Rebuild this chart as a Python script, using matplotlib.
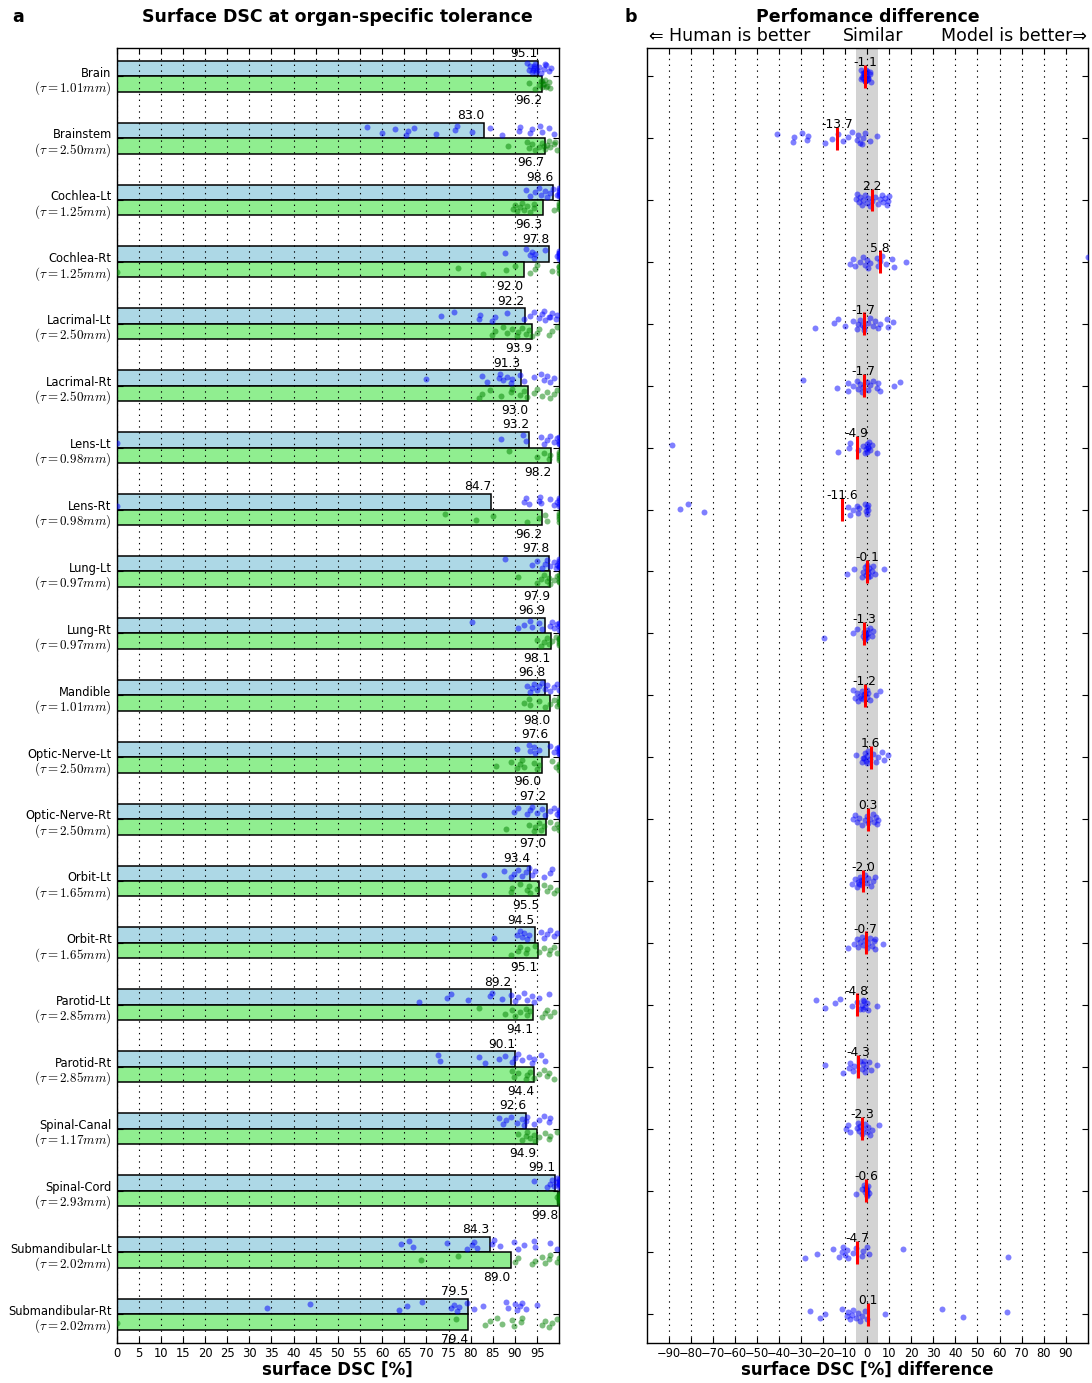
import matplotlib
matplotlib.use("Agg")
import matplotlib.pyplot as plt
import matplotlib.transforms as mtransforms
import numpy as np

# ---------------------------------------------------------------- data
organs = ["Brain", "Brainstem", "Cochlea-Lt", "Cochlea-Rt", "Lacrimal-Lt",
          "Lacrimal-Rt", "Lens-Lt", "Lens-Rt", "Lung-Lt", "Lung-Rt",
          "Mandible", "Optic-Nerve-Lt", "Optic-Nerve-Rt", "Orbit-Lt",
          "Orbit-Rt", "Parotid-Lt", "Parotid-Rt", "Spinal-Canal",
          "Spinal-Cord", "Submandibular-Lt", "Submandibular-Rt"]
tolerance_mm = [1.01, 2.50, 1.25, 1.25, 2.50, 2.50, 0.98, 0.98, 0.97, 0.97,
                1.01, 2.50, 2.50, 1.65, 1.65, 2.85, 2.85, 1.17, 2.93, 2.02,
                2.02]
human_dsc = [95.1, 83.0, 98.6, 97.8, 92.2, 91.3, 93.2, 84.7, 97.8, 96.9,
             96.8, 97.6, 97.2, 93.4, 94.5, 89.2, 90.1, 92.6, 99.1, 84.3, 79.5]
model_dsc = [96.2, 96.7, 96.3, 92.0, 93.9, 93.0, 98.2, 96.2, 97.9, 98.1,
             98.0, 96.0, 97.0, 95.5, 95.1, 94.1, 94.4, 94.9, 99.8, 89.0, 79.4]
mean_diff = [-1.1, -13.7, 2.2, 5.8, -1.7, -1.7, -4.9, -11.6, -0.1, -1.3,
             -1.2, 1.6, 0.3, -2.0, -0.7, -4.8, -4.3, -2.3, -0.6, -4.7, 0.1]

# per-case surface DSC of the human reference contours
human_points = [
    [92.7, 93.1, 93.5, 93.9, 94.2, 94.6, 95.0, 95.4, 95.8, 96.5, 97.1, 97.6, 98.2, 96.9, 94.0, 94.4, 94.8],
    [56.5, 59.9, 62.9, 65.4, 65.8, 67.2, 72.1, 76.4, 76.8, 80.3, 84.3, 87.1, 90.9, 91.2, 93.3, 93.8, 95.7, 96.2, 97.8, 98.9],
    [92.6, 93.5, 94.6, 95.4, 95.8, 96.9, 97.3, 98.0, 98.6, 99.5, 99.9, 100, 100, 100, 100],
    [87.8, 92.4, 93.3, 93.9, 94.2, 94.6, 96.9, 99.5, 100, 100, 100, 100, 100, 100],
    [73.3, 76.2, 81.8, 82.0, 84.8, 85.6, 88.3, 92.0, 93.3, 94.2, 95.4, 96.1, 96.9, 97.6, 98.4, 99.2, 99.5, 96.5, 98.0],
    [69.9, 82.5, 83.7, 86.3, 86.7, 87.4, 88.2, 89.0, 89.3, 91.2, 92.0, 94.2, 95.8, 96.5, 97.3, 98.0, 98.8],
    [0.0, 86.8, 91.8, 92.4, 95.8, 96.5, 97.3, 98.0, 98.8, 99.5, 100, 100, 100, 100],
    [0.0, 92.0, 92.4, 93.1, 95.4, 95.6, 95.9, 98.0, 98.8, 99.5, 100, 100, 100, 100],
    [87.7, 93.9, 95.0, 96.1, 96.9, 97.3, 98.0, 98.8, 99.2, 99.5, 100, 100, 100, 100, 100],
    [80.3, 90.6, 92.1, 93.5, 93.9, 95.4, 96.1, 98.0, 98.4, 98.8, 99.5, 100, 100, 100],
    [92.7, 93.5, 93.9, 94.2, 95.0, 95.4, 96.1, 96.9, 97.3, 98.0, 98.8, 99.5, 100],
    [90.5, 93.1, 93.5, 94.2, 94.6, 95.4, 98.0, 98.8, 99.5, 100, 100, 100, 100, 100],
    [89.7, 90.8, 92.7, 93.5, 93.9, 95.0, 96.1, 96.9, 98.0, 98.8, 99.5, 100, 100, 100],
    [83.0, 87.6, 89.0, 89.7, 90.8, 91.6, 92.4, 93.1, 93.9, 94.6, 96.5, 97.9, 98.4],
    [85.2, 90.5, 91.2, 91.6, 92.0, 92.7, 93.1, 95.8, 96.5, 97.3, 98.0, 98.8, 99.5],
    [68.4, 74.6, 75.5, 79.3, 84.4, 84.8, 87.1, 89.0, 90.1, 90.8, 92.0, 92.7, 93.9, 94.2, 95.4, 97.6],
    [72.7, 73.1, 81.8, 83.3, 86.3, 87.8, 89.3, 90.1, 90.8, 91.6, 93.1, 93.9, 94.2, 95.8, 96.9],
    [86.3, 87.4, 88.0, 89.0, 90.5, 91.6, 92.0, 92.4, 92.7, 94.2, 95.4, 96.5, 97.6, 98.0],
    [94.4, 97.3, 98.0, 98.4, 98.8, 99.2, 99.5, 100, 100, 100, 100, 100, 100],
    [64.2, 66.0, 66.9, 74.7, 79.1, 80.3, 80.8, 81.4, 84.8, 85.2, 86.7, 89.7, 90.8, 92.0, 94.2, 94.6, 98.0, 99.5],
    [34.0, 43.6, 63.8, 65.7, 68.9, 75.6, 76.2, 76.8, 77.3, 79.1, 80.8, 82.8, 88.0, 88.5, 90.1, 90.5, 91.2, 91.6, 92.4, 95.0],
]

# per-case surface DSC of the model contours
model_points = [
    [93.1, 94.6, 95.4, 95.8, 96.1, 96.5, 96.9, 97.3, 97.6, 98.0, 96.4, 96.0, 97.0],
    [88.4, 92.7, 93.1, 93.9, 94.6, 95.4, 96.1, 96.9, 97.3, 97.6, 98.0, 98.8, 99.5, 96.5, 99.0],
    [89.6, 90.1, 90.5, 91.2, 91.6, 92.0, 92.7, 93.3, 94.2, 94.4, 98.8, 100, 100, 100, 100],
    [0.0, 77.1, 82.8, 88.0, 90.1, 93.5, 94.6, 95.0, 98.3, 100, 100, 100, 100],
    [84.8, 85.6, 87.4, 88.2, 89.3, 90.5, 90.8, 91.6, 92.4, 93.1, 93.9, 95.0, 95.4, 97.6, 98.4, 99.5],
    [81.8, 82.5, 84.4, 86.9, 89.0, 89.3, 91.2, 92.0, 92.7, 94.2, 95.0, 96.1, 97.3, 98.0, 98.8, 99.5],
    [88.6, 95.0, 96.5, 97.6, 98.0, 100, 100, 100, 100, 100],
    [74.3, 81.2, 85.0, 92.7, 95.4, 96.9, 97.3, 100, 100, 100, 100, 100],
    [90.7, 95.0, 95.8, 96.5, 97.3, 97.6, 98.0, 98.8, 99.5, 100, 100, 100, 100],
    [95.0, 95.8, 96.5, 97.3, 97.6, 98.4, 99.2, 100, 100, 100, 100, 100],
    [92.0, 93.1, 93.5, 95.4, 96.9, 98.0, 98.8, 99.5, 100, 100, 100, 100],
    [85.7, 89.0, 90.5, 91.2, 91.6, 92.0, 94.2, 95.0, 95.4, 98.4, 99.2, 100, 100, 100],
    [88.0, 93.1, 94.2, 94.6, 95.4, 95.8, 96.5, 98.0, 98.8, 99.5, 100, 100],
    [89.0, 89.3, 91.2, 92.7, 93.1, 93.5, 95.0, 96.5, 97.3, 98.0, 98.8, 99.5],
    [89.0, 90.8, 91.2, 92.4, 92.7, 94.6, 95.4, 96.5, 97.6, 98.0, 98.8, 99.5],
    [81.8, 87.8, 89.3, 90.1, 91.2, 92.4, 92.7, 93.5, 96.1, 96.9, 97.3, 98.0, 98.8],
    [89.3, 89.7, 90.8, 92.4, 92.7, 93.5, 94.2, 95.4, 96.5, 97.3, 97.6, 98.8],
    [90.8, 91.6, 92.4, 92.7, 93.5, 94.2, 94.6, 95.4, 96.9, 97.6, 98.0, 99.5],
    [99.5, 100, 100, 100, 100, 100, 100, 100, 100],
    [68.8, 77.1, 90.1, 90.8, 93.9, 94.6, 96.1, 96.9, 97.6, 98.0, 99.5, 100],
    [0.0, 76.6, 83.3, 84.4, 85.9, 87.1, 89.3, 89.7, 91.4, 91.6, 96.1, 96.9, 97.6, 98.4, 99.5],
]

# per-case difference of surface DSC
diff_points = [
    [-3.0, -2.0, -1.5, -1.0, -0.5, 0.0, 0.5, 1.0, 1.5, -2.5, -1.0, 0.0, -1.5, -0.5, 0.5, -2.0, -1.0, 0.0, 1.0, -3.0],
    [-40.8, -33.6, -33.1, -29.8, -27.5, -27.1, -19.2, -16.0, -13.2, -10.9, -8.6, -7.1, -4.8, -4.1, -3.3, -1.8, -1.1, 1.2, 4.5, -2.5],
    [-5.0, -4.5, -4.0, -3.3, -2.6, -1.8, -1.0, 0.0, 0.5, 1.2, 2.0, 3.5, 5.0, 5.7, 6.5, 7.3, 8.0, 8.8, 9.5, 10.0],
    [-7.9, -6.7, -5.6, -3.3, -1.8, -1.1, -0.3, 0.5, 1.2, 4.2, 5.0, 5.7, 6.5, 8.5, 11.0, 12.1, 17.4, 100.0],
    [-23.8, -15.1, -13.5, -10.1, -6.4, -4.8, -4.1, -3.3, -1.5, 0.5, 1.2, 2.7, 3.5, 5.0, 5.7, 8.8, 9.5, 11.8, -1.4, -2.6],
    [-29.3, -13.9, -8.9, -8.6, -6.4, -4.8, -4.1, -3.3, -2.6, -1.8, -0.3, 0.5, 1.2, 2.7, 4.2, 5.0, 5.7, 12.3, 14.8],
    [-88.8, -13.2, -8.2, -7.9, -4.1, -1.8, -1.1, -0.6, -0.3, 0.0, 0.5, 0.9, 1.2, 2.0, 4.5, 0.2],
    [-85.0, -81.5, -74.0, -8.6, -7.9, -6.7, -4.8, -4.1, -3.6, -1.1, -0.6, -0.3, 0.0, 0.5, 0.2],
    [-9.1, -5.9, -2.6, -1.8, -1.1, -0.6, -0.3, 0.0, 0.5, 0.9, 1.2, 2.0, 2.7, 3.5, 7.7, 0.2],
    [-19.5, -6.4, -4.8, -2.1, -1.5, -1.1, -0.6, -0.3, 0.0, 0.5, 1.2, 2.0, 2.4, -0.9, -0.4],
    [-6.7, -5.6, -4.8, -4.1, -3.3, -2.6, -1.8, -1.1, -0.3, 0.0, 0.5, 1.2, 3.9, 5.7, -3.0, -1.5],
    [-5.1, -2.6, -1.8, -1.1, -0.6, 0.0, 0.5, 1.2, 2.7, 3.9, 5.0, 6.5, 7.7, 9.2, -0.3, -1.5],
    [-6.4, -5.6, -4.8, -3.6, -2.6, -1.1, -0.3, 0.5, 1.2, 2.4, 3.0, 3.9, 4.5, 5.0],
    [-6.8, -5.6, -4.8, -4.1, -3.3, -2.6, -1.8, -1.1, -0.3, 0.5, 1.7, 2.7, 3.5, -4.0, -3.0],
    [-8.6, -6.0, -4.8, -4.1, -3.3, -2.6, -1.8, -1.1, -0.3, 0.5, 1.2, 2.0, 3.0, 3.6, 7.3, 3.5],
    [-23.3, -19.2, -14.7, -12.4, -7.1, -4.8, -3.3, -2.6, -1.8, -1.1, -0.3, 0.5, 4.2, -1.5, -2.1],
    [-19.2, -11.2, -8.2, -7.9, -6.7, -5.9, -3.3, -2.6, -1.8, -1.1, -0.6, 0.9, 1.7, 4.2, -1.5],
    [-9.7, -8.6, -7.9, -4.8, -4.4, -3.6, -3.3, -2.6, -1.8, -1.1, -0.3, 0.5, 1.2, 2.0, 5.4],
    [-5.3, -2.6, -1.5, -1.1, -0.6, -0.3, 0.0, 0.5, 0.9, -0.6, -0.3, 0.0],
    [-28.3, -23.0, -15.7, -12.9, -11.6, -10.9, -10.1, -9.4, -8.9, -6.4, -5.1, -2.6, -1.8, 0.0, 0.9, 16.3, 63.8],
    [-26.0, -21.5, -19.2, -11.6, -9.4, -8.6, -7.9, -7.1, -6.4, -5.1, -4.1, -3.3, -2.6, -1.1, -0.3, 8.0, 34.0, 43.6, 63.6],
]

dsc_ticks = list(range(0, 100, 5))
diff_ticks = list(range(-90, 100, 10))

# ---------------------------------------------------------------- style
plt.rcParams.update({
    "font.family": ["DejaVu Sans"],
    "mathtext.fontset": "cm",
    "lines.scale_dashes": False,
    "axes.linewidth": 1.0,
})

TICK_FS = 8.3
LABEL_FS = 8.8


def spread(n, amp, shift=0.0):
    """Evenly scattered vertical offsets for strip-plot points."""
    k = np.arange(n)
    return ((k * 0.6180339887 + shift) % 1.0 - 0.5) * 2.0 * amp


def style_axis(ax, xticks, xlim):
    ax.set_xlim(*xlim)
    ax.set_ylim(len(organs) - 1 + 0.455, -0.455)
    ax.set_xticks(xticks)
    ax.tick_params(axis="both", which="both", direction="in", length=4,
                   width=0.8, top=True, right=True, labelsize=TICK_FS,
                   pad=3.5)
    ax.xaxis.grid(True, color="black", linestyle=(0, (1, 3.2)),
                  linewidth=0.8)
    ax.yaxis.grid(False)
    ax.set_axisbelow(False)


fig = plt.figure(figsize=(10.92, 13.83), dpi=100)
ax_a = fig.add_axes([0.1067, 0.02928, 0.4054, 0.93601])
ax_b = fig.add_axes([0.5925, 0.02928, 0.4035, 0.93601])

rows = np.arange(len(organs))

# ---------------------------------------------------------------- panel a
ax_a.barh(rows - 0.125, human_dsc, height=0.25, color="lightblue",
          edgecolor="black", linewidth=1.1, zorder=1)
ax_a.barh(rows + 0.125, model_dsc, height=0.25, color="lightgreen",
          edgecolor="black", linewidth=1.1, zorder=1)

for i in rows:
    hp = np.asarray(human_points[i], dtype=float)
    mp = np.asarray(model_points[i], dtype=float)
    ax_a.plot(hp, i - 0.125 + spread(len(hp), 0.08, 0.13 * i), "o",
              color="blue", alpha=0.5, markersize=4.3, markeredgewidth=0,
              zorder=3)
    ax_a.plot(mp, i + 0.125 + spread(len(mp), 0.08, 0.37 + 0.11 * i), "o",
              color="green", alpha=0.5, markersize=4.3, markeredgewidth=0,
              zorder=3)
    ax_a.text(human_dsc[i], i - 0.31, f"{human_dsc[i]:.1f}", ha="right",
              va="baseline", fontsize=LABEL_FS, zorder=4)
    ax_a.text(model_dsc[i], i + 0.295, f"{model_dsc[i]:.1f}", ha="right",
              va="top", fontsize=LABEL_FS, zorder=4)

style_axis(ax_a, dsc_ticks, (0, 100))
ax_a.set_yticks(rows)
ax_a.set_yticklabels([])

# two-line row labels: organ name and its tolerance
label_tf = mtransforms.offset_copy(ax_a.get_yaxis_transform(), fig=fig,
                                   x=-3.5, y=0, units="points")
for i, (o, t) in enumerate(zip(organs, tolerance_mm)):
    ax_a.text(0, i - 0.05, o, transform=label_tf, ha="right",
              va="center", fontsize=TICK_FS)
    ax_a.text(0, i + 0.19, f"$(\\tau={t:.2f}mm)$", transform=label_tf,
              ha="right", va="center", fontsize=9.4)

# ---------------------------------------------------------------- panel b
ax_b.axvspan(-5, 5, color="lightgray", zorder=0, linewidth=0)
for i in rows:
    dp = np.asarray(diff_points[i], dtype=float)
    ax_b.plot(dp, i + spread(len(dp), 0.1, 0.21 * i), "o", color="blue",
              alpha=0.5, markersize=4.3, markeredgewidth=0, zorder=3)
ax_b.vlines(mean_diff, rows - 0.185, rows + 0.185, color="red",
            linewidth=2.2, zorder=4)
for i in rows:
    ax_b.text(mean_diff[i], i - 0.165, f"{mean_diff[i]:.1f}", ha="center",
              va="baseline", fontsize=LABEL_FS, zorder=5)

style_axis(ax_b, diff_ticks, (-100, 100))
ax_b.set_yticks(rows)
ax_b.set_yticklabels([])

# ---------------------------------------------------------------- titles
fig.text(0.0165, 0.9877, "a", fontsize=12.5, fontweight="bold",
         ha="center", va="center")
fig.text(0.578, 0.9877, "b", fontsize=12.5, fontweight="bold",
         ha="center", va="center")
fig.text(0.3094, 0.9877, "Surface DSC at organ-specific tolerance",
         fontsize=12.5, fontweight="bold", ha="center", va="center")
fig.text(0.7943, 0.9877, "Perfomance difference", fontsize=12.5,
         fontweight="bold", ha="center", va="center")
fig.text(0.5945, 0.974, "\u21d0 Human is better", fontsize=12.5,
         ha="left", va="center")
fig.text(0.7992, 0.974, "Similar", fontsize=12.5, ha="center", va="center")
fig.text(0.9950, 0.974, "Model is better\u21d2", fontsize=12.5,
         ha="right", va="center")
fig.text(0.3094, 0.0094, "surface DSC [%]", fontsize=12, fontweight="bold",
         ha="center", va="center")
fig.text(0.7943, 0.0094, "surface DSC [%] difference", fontsize=12,
         fontweight="bold", ha="center", va="center")

fig.savefig("out.png", dpi=100, facecolor="white")
